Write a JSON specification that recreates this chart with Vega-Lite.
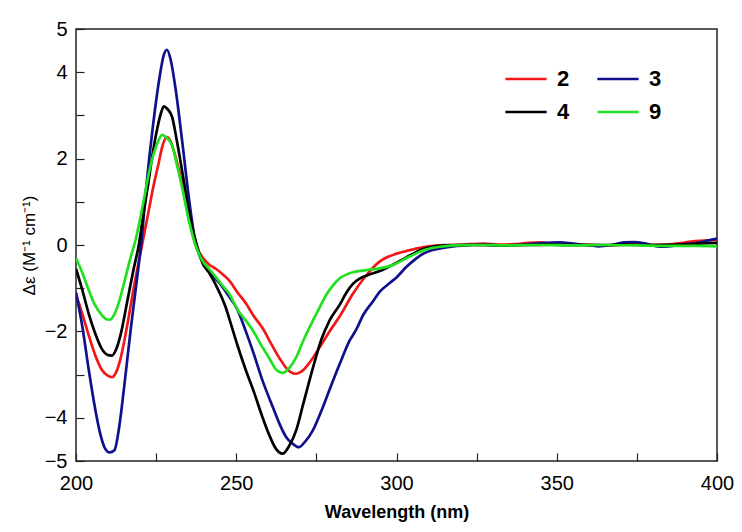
{
  "$schema": "https://vega.github.io/schema/vega-lite/v6.json",
  "width": 641,
  "height": 432,
  "autosize": {"type": "none"},
  "padding": {"left": 76, "top": 29, "right": 25, "bottom": 71},
  "background": "white",
  "config": {
    "view": {"stroke": "#222", "strokeWidth": 1.5},
    "font": "Liberation Sans",
    "axis": {"domain": false, "grid": false, "tickColor": "#222", "tickSize": -8, "tickWidth": 1.2, "labelColor": "#000", "titleColor": "#000", "labelFont": "Liberation Sans", "titleFont": "Liberation Sans"}
  },
  "datasets": {
    "cd": [
      {"wl": 200, "s": "2", "v": -1.15}, {"wl": 202, "s": "2", "v": -1.6}, {"wl": 204, "s": "2", "v": -2.1}, {"wl": 206, "s": "2", "v": -2.55}, {"wl": 208, "s": "2", "v": -2.88}, {"wl": 210, "s": "2", "v": -3.03}, {"wl": 211.2, "s": "2", "v": -3.06}, {"wl": 212.5, "s": "2", "v": -2.95}, {"wl": 214, "s": "2", "v": -2.6}, {"wl": 216, "s": "2", "v": -1.85}, {"wl": 218, "s": "2", "v": -1.0}, {"wl": 220.6, "s": "2", "v": 0}, {"wl": 222.7, "s": "2", "v": 0.8}, {"wl": 224, "s": "2", "v": 1.3}, {"wl": 225.8, "s": "2", "v": 1.9}, {"wl": 227, "s": "2", "v": 2.3}, {"wl": 228.4, "s": "2", "v": 2.5}, {"wl": 229.5, "s": "2", "v": 2.4}, {"wl": 231.1, "s": "2", "v": 2.03}, {"wl": 233.1, "s": "2", "v": 1.42}, {"wl": 235.2, "s": "2", "v": 0.64}, {"wl": 237.3, "s": "2", "v": 0}, {"wl": 239.4, "s": "2", "v": -0.28}, {"wl": 241.5, "s": "2", "v": -0.45}, {"wl": 243.6, "s": "2", "v": -0.55}, {"wl": 245.5, "s": "2", "v": -0.66}, {"wl": 247.8, "s": "2", "v": -0.82}, {"wl": 250.4, "s": "2", "v": -1.1}, {"wl": 253, "s": "2", "v": -1.35}, {"wl": 255.5, "s": "2", "v": -1.65}, {"wl": 258.2, "s": "2", "v": -1.92}, {"wl": 261, "s": "2", "v": -2.3}, {"wl": 263.5, "s": "2", "v": -2.62}, {"wl": 266, "s": "2", "v": -2.88}, {"wl": 268.7, "s": "2", "v": -2.98}, {"wl": 270.5, "s": "2", "v": -2.92}, {"wl": 272.9, "s": "2", "v": -2.72}, {"wl": 276, "s": "2", "v": -2.37}, {"wl": 279.1, "s": "2", "v": -2.0}, {"wl": 282.3, "s": "2", "v": -1.65}, {"wl": 286.4, "s": "2", "v": -1.13}, {"wl": 290.6, "s": "2", "v": -0.7}, {"wl": 294.8, "s": "2", "v": -0.38}, {"wl": 300, "s": "2", "v": -0.2}, {"wl": 304.2, "s": "2", "v": -0.12}, {"wl": 308.4, "s": "2", "v": -0.05}, {"wl": 313, "s": "2", "v": -0.01}, {"wl": 318, "s": "2", "v": 0.0}, {"wl": 323, "s": "2", "v": 0.02}, {"wl": 327, "s": "2", "v": 0.03}, {"wl": 332, "s": "2", "v": 0.01}, {"wl": 337, "s": "2", "v": 0.02}, {"wl": 341, "s": "2", "v": 0.05}, {"wl": 345, "s": "2", "v": 0.06}, {"wl": 349, "s": "2", "v": 0.02}, {"wl": 354, "s": "2", "v": 0.0}, {"wl": 360, "s": "2", "v": 0.01}, {"wl": 366, "s": "2", "v": -0.01}, {"wl": 372, "s": "2", "v": 0.02}, {"wl": 378, "s": "2", "v": 0.0}, {"wl": 384, "s": "2", "v": 0.01}, {"wl": 388, "s": "2", "v": 0.04}, {"wl": 392, "s": "2", "v": 0.08}, {"wl": 396, "s": "2", "v": 0.1}, {"wl": 400, "s": "2", "v": 0.12},

      {"wl": 200, "s": "3", "v": -1.1}, {"wl": 202, "s": "3", "v": -1.9}, {"wl": 204, "s": "3", "v": -2.9}, {"wl": 206, "s": "3", "v": -3.8}, {"wl": 207.5, "s": "3", "v": -4.35}, {"wl": 209, "s": "3", "v": -4.7}, {"wl": 210.5, "s": "3", "v": -4.8}, {"wl": 212, "s": "3", "v": -4.75}, {"wl": 213.5, "s": "3", "v": -4.2}, {"wl": 215, "s": "3", "v": -3.3}, {"wl": 217, "s": "3", "v": -2.0}, {"wl": 219, "s": "3", "v": -0.8}, {"wl": 220.3, "s": "3", "v": 0}, {"wl": 222, "s": "3", "v": 1.4}, {"wl": 224, "s": "3", "v": 2.75}, {"wl": 226, "s": "3", "v": 3.85}, {"wl": 227.4, "s": "3", "v": 4.4}, {"wl": 228.4, "s": "3", "v": 4.52}, {"wl": 229.5, "s": "3", "v": 4.3}, {"wl": 231.1, "s": "3", "v": 3.6}, {"wl": 233.1, "s": "3", "v": 2.42}, {"wl": 235.2, "s": "3", "v": 1.1}, {"wl": 237.3, "s": "3", "v": 0.05}, {"wl": 238.4, "s": "3", "v": -0.22}, {"wl": 240.5, "s": "3", "v": -0.5}, {"wl": 242.5, "s": "3", "v": -0.7}, {"wl": 245, "s": "3", "v": -0.9}, {"wl": 247.8, "s": "3", "v": -1.2}, {"wl": 250.4, "s": "3", "v": -1.5}, {"wl": 253, "s": "3", "v": -2.0}, {"wl": 255.1, "s": "3", "v": -2.44}, {"wl": 258.2, "s": "3", "v": -3.14}, {"wl": 261.4, "s": "3", "v": -3.75}, {"wl": 263.5, "s": "3", "v": -4.14}, {"wl": 265.6, "s": "3", "v": -4.45}, {"wl": 267.6, "s": "3", "v": -4.6}, {"wl": 269.5, "s": "3", "v": -4.68}, {"wl": 271.5, "s": "3", "v": -4.55}, {"wl": 273.9, "s": "3", "v": -4.29}, {"wl": 276.5, "s": "3", "v": -3.85}, {"wl": 279.1, "s": "3", "v": -3.35}, {"wl": 282.3, "s": "3", "v": -2.75}, {"wl": 285.4, "s": "3", "v": -2.21}, {"wl": 287.5, "s": "3", "v": -1.95}, {"wl": 289.6, "s": "3", "v": -1.62}, {"wl": 292.7, "s": "3", "v": -1.3}, {"wl": 294.8, "s": "3", "v": -1.08}, {"wl": 297.9, "s": "3", "v": -0.88}, {"wl": 300, "s": "3", "v": -0.75}, {"wl": 303.2, "s": "3", "v": -0.5}, {"wl": 306, "s": "3", "v": -0.32}, {"wl": 308.4, "s": "3", "v": -0.2}, {"wl": 311, "s": "3", "v": -0.12}, {"wl": 313.6, "s": "3", "v": -0.08}, {"wl": 318.8, "s": "3", "v": -0.02}, {"wl": 323, "s": "3", "v": 0.0}, {"wl": 328, "s": "3", "v": 0.01}, {"wl": 333, "s": "3", "v": -0.01}, {"wl": 338, "s": "3", "v": 0.0}, {"wl": 343, "s": "3", "v": 0.03}, {"wl": 347, "s": "3", "v": 0.05}, {"wl": 351, "s": "3", "v": 0.06}, {"wl": 355, "s": "3", "v": 0.03}, {"wl": 359, "s": "3", "v": 0.0}, {"wl": 363, "s": "3", "v": -0.03}, {"wl": 367, "s": "3", "v": 0.0}, {"wl": 371, "s": "3", "v": 0.06}, {"wl": 374, "s": "3", "v": 0.07}, {"wl": 378, "s": "3", "v": 0.03}, {"wl": 382, "s": "3", "v": -0.04}, {"wl": 386, "s": "3", "v": -0.02}, {"wl": 390, "s": "3", "v": 0.02}, {"wl": 394, "s": "3", "v": 0.05}, {"wl": 397, "s": "3", "v": 0.1}, {"wl": 400, "s": "3", "v": 0.15},

      {"wl": 200, "s": "4", "v": -0.55}, {"wl": 202, "s": "4", "v": -1.05}, {"wl": 204, "s": "4", "v": -1.6}, {"wl": 206, "s": "4", "v": -2.05}, {"wl": 208, "s": "4", "v": -2.4}, {"wl": 210, "s": "4", "v": -2.55}, {"wl": 211.2, "s": "4", "v": -2.56}, {"wl": 212.5, "s": "4", "v": -2.42}, {"wl": 214, "s": "4", "v": -2.05}, {"wl": 216, "s": "4", "v": -1.3}, {"wl": 218, "s": "4", "v": -0.55}, {"wl": 219.6, "s": "4", "v": 0}, {"wl": 221, "s": "4", "v": 0.7}, {"wl": 222.5, "s": "4", "v": 1.4}, {"wl": 224, "s": "4", "v": 2.15}, {"wl": 225.5, "s": "4", "v": 2.75}, {"wl": 226.5, "s": "4", "v": 3.05}, {"wl": 227.4, "s": "4", "v": 3.21}, {"wl": 228.5, "s": "4", "v": 3.15}, {"wl": 230, "s": "4", "v": 2.96}, {"wl": 231.5, "s": "4", "v": 2.4}, {"wl": 233.1, "s": "4", "v": 1.72}, {"wl": 235.2, "s": "4", "v": 0.8}, {"wl": 237.3, "s": "4", "v": 0.1}, {"wl": 238.5, "s": "4", "v": -0.2}, {"wl": 239.5, "s": "4", "v": -0.42}, {"wl": 241.5, "s": "4", "v": -0.64}, {"wl": 243.6, "s": "4", "v": -0.92}, {"wl": 246.7, "s": "4", "v": -1.44}, {"wl": 248.3, "s": "4", "v": -1.82}, {"wl": 250.5, "s": "4", "v": -2.35}, {"wl": 253, "s": "4", "v": -2.9}, {"wl": 255.5, "s": "4", "v": -3.4}, {"wl": 258.2, "s": "4", "v": -3.99}, {"wl": 260.3, "s": "4", "v": -4.4}, {"wl": 262.4, "s": "4", "v": -4.72}, {"wl": 264.5, "s": "4", "v": -4.83}, {"wl": 266.5, "s": "4", "v": -4.65}, {"wl": 268.7, "s": "4", "v": -4.29}, {"wl": 271, "s": "4", "v": -3.65}, {"wl": 273.9, "s": "4", "v": -2.85}, {"wl": 276.5, "s": "4", "v": -2.2}, {"wl": 279.1, "s": "4", "v": -1.75}, {"wl": 282.3, "s": "4", "v": -1.38}, {"wl": 284.4, "s": "4", "v": -1.1}, {"wl": 286.4, "s": "4", "v": -0.9}, {"wl": 288.5, "s": "4", "v": -0.78}, {"wl": 290.6, "s": "4", "v": -0.71}, {"wl": 294.8, "s": "4", "v": -0.6}, {"wl": 299, "s": "4", "v": -0.45}, {"wl": 303.2, "s": "4", "v": -0.28}, {"wl": 306, "s": "4", "v": -0.17}, {"wl": 308.4, "s": "4", "v": -0.09}, {"wl": 312, "s": "4", "v": -0.03}, {"wl": 318, "s": "4", "v": 0.0}, {"wl": 325, "s": "4", "v": 0.0}, {"wl": 332, "s": "4", "v": -0.01}, {"wl": 340, "s": "4", "v": 0.0}, {"wl": 348, "s": "4", "v": 0.01}, {"wl": 356, "s": "4", "v": 0.0}, {"wl": 364, "s": "4", "v": 0.0}, {"wl": 372, "s": "4", "v": 0.01}, {"wl": 380, "s": "4", "v": 0.0}, {"wl": 388, "s": "4", "v": 0.01}, {"wl": 394, "s": "4", "v": 0.03}, {"wl": 400, "s": "4", "v": 0.05},

      {"wl": 200, "s": "9", "v": -0.3}, {"wl": 202, "s": "9", "v": -0.65}, {"wl": 204, "s": "9", "v": -1.05}, {"wl": 206, "s": "9", "v": -1.4}, {"wl": 208, "s": "9", "v": -1.62}, {"wl": 209.5, "s": "9", "v": -1.72}, {"wl": 210.5, "s": "9", "v": -1.73}, {"wl": 212, "s": "9", "v": -1.6}, {"wl": 213.5, "s": "9", "v": -1.3}, {"wl": 215, "s": "9", "v": -0.88}, {"wl": 217, "s": "9", "v": -0.3}, {"wl": 218.7, "s": "9", "v": 0.15}, {"wl": 220, "s": "9", "v": 0.6}, {"wl": 221.3, "s": "9", "v": 1.1}, {"wl": 222.7, "s": "9", "v": 1.65}, {"wl": 224, "s": "9", "v": 2.05}, {"wl": 225.5, "s": "9", "v": 2.38}, {"wl": 226.9, "s": "9", "v": 2.55}, {"wl": 228, "s": "9", "v": 2.5}, {"wl": 230, "s": "9", "v": 2.3}, {"wl": 231.5, "s": "9", "v": 1.85}, {"wl": 233.1, "s": "9", "v": 1.34}, {"wl": 235.2, "s": "9", "v": 0.57}, {"wl": 237.3, "s": "9", "v": 0.0}, {"wl": 239.4, "s": "9", "v": -0.36}, {"wl": 241.5, "s": "9", "v": -0.55}, {"wl": 243.6, "s": "9", "v": -0.74}, {"wl": 245.5, "s": "9", "v": -0.92}, {"wl": 247.8, "s": "9", "v": -1.13}, {"wl": 250.4, "s": "9", "v": -1.5}, {"wl": 253, "s": "9", "v": -1.75}, {"wl": 255.1, "s": "9", "v": -1.97}, {"wl": 258.2, "s": "9", "v": -2.37}, {"wl": 260.3, "s": "9", "v": -2.62}, {"wl": 262.4, "s": "9", "v": -2.88}, {"wl": 264.5, "s": "9", "v": -2.96}, {"wl": 266.5, "s": "9", "v": -2.85}, {"wl": 268.7, "s": "9", "v": -2.6}, {"wl": 271, "s": "9", "v": -2.2}, {"wl": 273.9, "s": "9", "v": -1.75}, {"wl": 276, "s": "9", "v": -1.45}, {"wl": 278.1, "s": "9", "v": -1.15}, {"wl": 280, "s": "9", "v": -0.95}, {"wl": 282.3, "s": "9", "v": -0.77}, {"wl": 284.5, "s": "9", "v": -0.68}, {"wl": 286.4, "s": "9", "v": -0.63}, {"wl": 290.6, "s": "9", "v": -0.58}, {"wl": 294.8, "s": "9", "v": -0.54}, {"wl": 299, "s": "9", "v": -0.46}, {"wl": 303.2, "s": "9", "v": -0.3}, {"wl": 306, "s": "9", "v": -0.2}, {"wl": 308.4, "s": "9", "v": -0.12}, {"wl": 311, "s": "9", "v": -0.07}, {"wl": 313.6, "s": "9", "v": -0.04}, {"wl": 318, "s": "9", "v": -0.01}, {"wl": 325, "s": "9", "v": 0.0}, {"wl": 335, "s": "9", "v": -0.01}, {"wl": 345, "s": "9", "v": 0.0}, {"wl": 355, "s": "9", "v": -0.01}, {"wl": 365, "s": "9", "v": 0.0}, {"wl": 375, "s": "9", "v": -0.01}, {"wl": 385, "s": "9", "v": -0.02}, {"wl": 393, "s": "9", "v": -0.02}, {"wl": 400, "s": "9", "v": -0.03}
    ]
  },
  "layer": [
    {
      "mark": {"type": "rule", "color": "#888", "strokeDash": [5, 4], "strokeWidth": 1},
      "encoding": {"y": {"datum": 0, "type": "quantitative", "scale": {"domain": [-5, 5]}}}
    },
    {
      "data": {"name": "cd"},
      "mark": {"type": "line", "strokeWidth": 2.7, "interpolate": "monotone", "clip": true},
      "encoding": {
        "x": {
          "field": "wl", "type": "quantitative",
          "scale": {"domain": [200, 400], "nice": false, "zero": false},
          "axis": {
            "values": [200, 225, 250, 275, 300, 325, 350, 375, 400],
            "labelExpr": "datum.value % 50 == 0 ? datum.label : ''",
            "labelFontSize": 20, "labelPadding": 20, "labelFlush": false, "labelDx": 2,
            "title": "Wavelength (nm)", "titleFontSize": 18, "titleFontWeight": "bold", "titlePadding": 10
          }
        },
        "y": {
          "field": "v", "type": "quantitative",
          "scale": {"domain": [-5, 5], "nice": false},
          "axis": {
            "values": [-5, -4, -3, -2, -1, 0, 1, 2, 3, 4, 5],
            "labelExpr": "(datum.value == 1 || datum.value == -1 || datum.value == 3 || datum.value == -3) ? '' : datum.label",
            "labelFontSize": 20, "labelPadding": 17, "labelFlush": false,
            "title": "Δε (M⁻¹ cm⁻¹)", "titleFontSize": 17, "titleFontWeight": "normal", "titlePadding": 6
          }
        },
        "color": {
          "field": "s", "type": "nominal",
          "scale": {"domain": ["2", "4", "3", "9"], "range": ["#f01818", "#000000", "#10108c", "#20e020"]},
          "legend": {
            "title": null, "orient": "none", "legendX": 428, "legendY": 28, "columns": 2,
            "columnPadding": 22, "rowPadding": -10, "symbolType": "stroke", "symbolSize": 1700,
            "symbolStrokeWidth": 2.5, "labelFontSize": 22, "labelFontWeight": "bold", "labelFont": "Liberation Sans",
            "labelOffset": 9, "padding": 0
          }
        }
      }
    }
  ]
}
